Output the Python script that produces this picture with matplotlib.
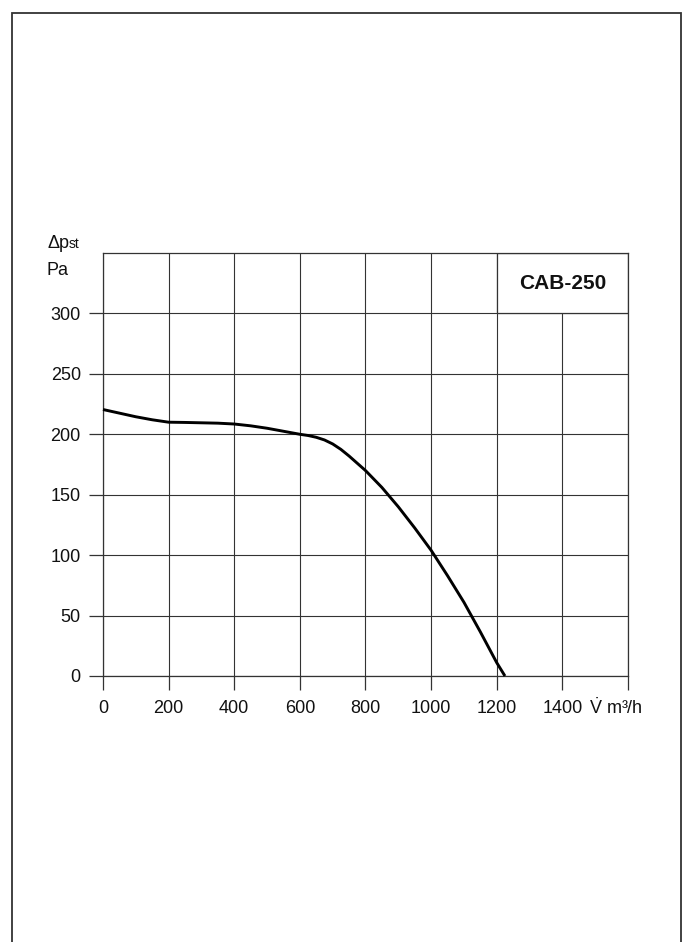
import matplotlib
matplotlib.use("Agg")
import matplotlib.pyplot as plt
from matplotlib.patches import Rectangle

plt.rcParams['font.family'] = ['Liberation Sans', 'DejaVu Sans']
plt.rcParams['mathtext.fontset'] = 'custom'
plt.rcParams['mathtext.rm'] = 'Liberation Sans'
plt.rcParams['mathtext.it'] = 'Liberation Sans'

# Data
flow = [0, 50, 100, 150, 200, 250, 300, 350, 400, 450, 500, 550, 600, 625, 650, 675, 700,
        725, 750, 800, 850, 900, 950, 1000, 1050, 1100, 1150, 1200, 1225]
pressure = [220.5, 217.5, 214.5, 212, 210, 209.8, 209.5, 209.2, 208.5, 207, 205, 202.5, 200, 199, 197.5, 195.3, 192,
            187.5, 182, 170, 156, 140, 122.5, 104, 83, 61, 36.5, 11, 0]
x_ticks = [0, 200, 400, 600, 800, 1000, 1200, 1400, 1600]
x_labels = ['0', '200', '400', '600', '800', '1000', '1200', '1400', '']
y_ticks = [0, 50, 100, 150, 200, 250, 300]
y_labels = ['0', '50', '100', '150', '200', '250', '300']
title = 'CAB-250'

W, H = 685, 942
fig = plt.figure(figsize=(W / 100, H / 100), dpi=100)
fig.patch.set_facecolor('white')

# outer frame
fig.patches.append(Rectangle((12 / W, -0.01), 669 / W, 1 - 13 / H + 0.01,
                             transform=fig.transFigure, fill=False,
                             edgecolor='#333333', linewidth=1.3))

ax = fig.add_axes([103 / W, 1 - 676 / H, (628 - 103) / W, (676 - 253) / H])
ax.set_xlim(0, 1600)
ax.set_ylim(0, 350)

gc = '#333333'
tc = '#111111'
for s in ax.spines.values():
    s.set_color(gc)
    s.set_linewidth(0.9)

ax.set_xticks(x_ticks)
ax.set_xticklabels(x_labels)
ax.set_yticks(y_ticks)
ax.set_yticklabels(y_labels)
ax.tick_params(axis='both', direction='out', length=10, width=0.9, color=gc,
               labelsize=13, labelcolor=tc)
ax.tick_params(axis='x', pad=7)
ax.tick_params(axis='y', pad=6)
ax.grid(True, color=gc, linewidth=0.8)
ax.set_axisbelow(True)

# title box covering top right cells
box = Rectangle((1200, 300), 400, 50, facecolor='white', edgecolor=gc,
                linewidth=0.9, zorder=2.5)
ax.add_patch(box)
ax.text(1400, 325, title, ha='center', va='center', fontsize=15,
        fontweight='bold', color=tc, zorder=3)

ax.plot(flow, pressure, color='black', linewidth=2.1, zorder=4, clip_on=False,
        solid_capstyle='butt')

# axis labels
fig.text(47 / W, 1 - 248 / H, 'Δp', fontsize=13, ha='left', va='baseline', color=tc)
fig.text(69 / W, 1 - 248 / H, 'st', fontsize=10, ha='left', va='baseline', color=tc)
fig.text(47 / W, 1 - 275 / H, 'Pa', fontsize=13, ha='left', va='baseline', color=tc)
fig.text(589 / W, 1 - 714 / H, r'$\dot{\mathrm{V}}$ m³/h', fontsize=13, ha='left',
         va='baseline', color=tc)

fig.savefig('out.png', dpi=100, facecolor='white')
